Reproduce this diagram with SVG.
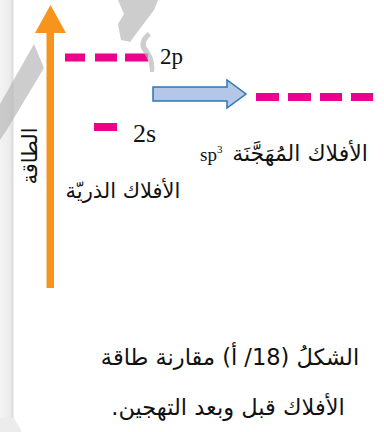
<svg xmlns="http://www.w3.org/2000/svg" width="384" height="432" viewBox="0 0 384 432">
<defs>
<linearGradient id="edge" x1="0" y1="0" x2="1" y2="0">
<stop offset="0" stop-color="#f3f3f3"/>
<stop offset="0.7" stop-color="#ececec"/>
<stop offset="0.88" stop-color="#dedede"/>
<stop offset="1" stop-color="#f2f2f2"/>
</linearGradient>
<style>
.dash{fill:#ec008c}
.lat{font-family:"Liberation Serif","Times New Roman",serif;fill:#111}
.ar{font-family:"DejaVu Sans",sans-serif;fill:#111}
.wm{fill:#b8b8b8;opacity:0.7}
</style>
</defs>
<rect width="384" height="432" fill="#ffffff"/>
<rect x="0" y="0" width="14" height="418" fill="url(#edge)"/>
<polygon points="0,418 14,418 22,432 0,432" fill="#ececec"/>

<g id="energy-axis">
<rect x="46.5" y="31" width="7.5" height="257" fill="#f7941d"/>
<polygon points="35,33 50.5,5 66,33" fill="#f7941d"/>
<text class="ar" transform="translate(37,156) rotate(-90)" font-size="21" text-anchor="middle" direction="rtl">الطاقة</text>
</g>

<g id="level-2p">
<rect class="dash" x="65" y="53.5" width="20" height="8"/>
<rect class="dash" x="95" y="53.5" width="22" height="8"/>
<rect class="dash" x="125" y="53.5" width="23" height="8"/>
<text class="lat" x="160" y="63.5" font-size="23">2p</text>
</g>

<g id="level-2s">
<rect class="dash" x="94" y="123" width="23" height="8"/>
<text class="lat" x="133" y="141.5" font-size="26">2s</text>
</g>

<g id="atomic-label">
<text class="ar" x="123" y="198" font-size="21" text-anchor="middle" direction="rtl">الأفلاك الذريّة</text>
</g>

<g id="connectors">
<path d="M153,87 H227 V80 L246,94 L227,108 V101 H153 Z" fill="#b4c7e7" stroke="#2e75b6" stroke-width="1.5" stroke-linejoin="miter"/>
</g>

<g id="level-sp3">
<rect class="dash" x="256" y="93" width="23" height="8"/>
<rect class="dash" x="288" y="93" width="23" height="8"/>
<rect class="dash" x="320" y="93" width="22" height="8"/>
<rect class="dash" x="351" y="93" width="22" height="8"/>
<text class="lat" x="200" y="161" font-size="19">sp<tspan font-size="11" dy="-8">3</tspan></text>
<text class="ar" x="300" y="161" font-size="22" text-anchor="middle" direction="rtl">الأفلاك المُهَجَّنَة</text>
</g>

<g id="caption">
<text class="ar" x="230" y="365" font-size="22.5" text-anchor="middle" direction="rtl">الشكلُ (18/ أ) مقارنة طاقة</text>
<text class="ar" x="228" y="415" font-size="22.5" text-anchor="middle" direction="rtl">الأفلاك قبل وبعد التهجين.</text>
</g>

<g id="watermark">
<polygon class="wm" points="34,44 44,68 8,128 0,140 0,104"/>
<path class="wm" d="M118,0 H158 L154,10 L130,42 L121,40 L118,24 L124,14 Z"/>
<path class="wm" d="M148,32 C142,36 138,44 142,50 C146,56 150,62 150,72 L154,72 C156,60 150,52 146,46 C145,42 148,38 151,36 Z"/>
</g>
</svg>
